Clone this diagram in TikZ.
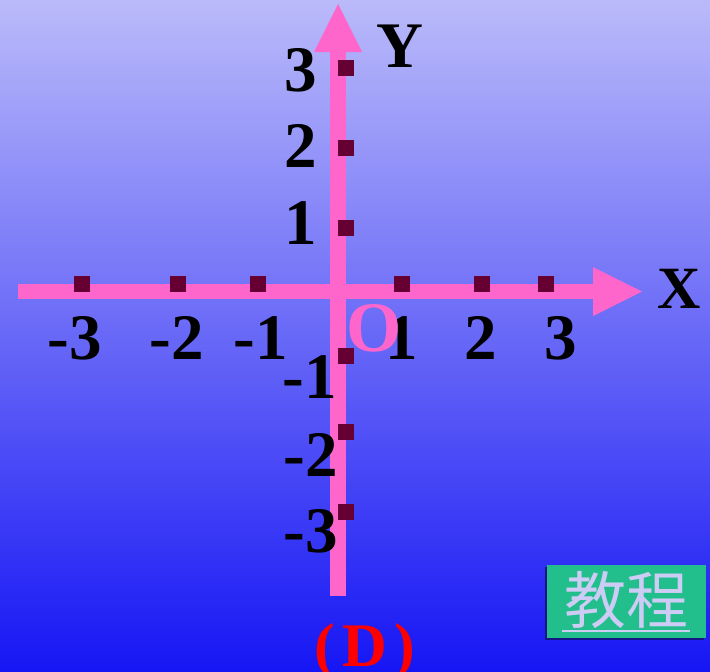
\documentclass[tikz,border=0pt]{standalone}
\usepackage{fontspec}
\setmainfont{Liberation Serif}
\newfontfamily\cjkfont{Noto Sans CJK SC}
\definecolor{axispink}{RGB}{255,102,204}
\definecolor{tickred}{RGB}{102,0,51}
\definecolor{btnteal}{RGB}{34,190,140}
\definecolor{btntext}{RGB}{204,204,245}
\definecolor{btnshadow}{RGB}{20,20,130}
\definecolor{bgtop}{RGB}{186,186,250}
\definecolor{bgmid}{RGB}{122,122,252}
\definecolor{bgbot}{RGB}{22,22,245}
\definecolor{labred}{RGB}{255,0,0}
\begin{document}
\begin{tikzpicture}[x=1pt,y=-1pt,
  tick/.style={fill=tickred, minimum size=16pt, inner sep=0pt},
  lbl/.style={inner sep=0pt, font=\bfseries\fontsize{65}{65}\selectfont, text=black},
  axlbl/.style={inner sep=0pt, font=\bfseries\fontsize{60}{60}\selectfont, text=black},
  pinkaxis/.style={fill=axispink}]
\useasboundingbox (0,0) rectangle (710,672);
\shade[top color=bgtop, middle color=bgmid, bottom color=bgbot] (0,0) rectangle (710,672);
% axes
\fill[pinkaxis] (18,284) rectangle (594,299);
\fill[pinkaxis] (593,267) -- (642,291.5) -- (593,316) -- cycle;
\fill[pinkaxis] (330,51) rectangle (346,596);
\fill[pinkaxis] (314,52) -- (338,4) -- (362,52) -- cycle;
% ticks on x axis
\node[tick] (txm3) at (82,284) {};
\node[tick] (txm2) at (178,284) {};
\node[tick] (txm1) at (258,284) {};
\node[tick] (tx1) at (402,284) {};
\node[tick] (tx2) at (482,284) {};
\node[tick] (tx3) at (546,284) {};
% ticks on y axis
\node[tick] (ty3) at (346,68) {};
\node[tick] (ty2) at (346,148) {};
\node[tick] (ty1) at (346,228) {};
\node[tick] (tym1) at (346,356) {};
\node[tick] (tym2) at (346,432) {};
\node[tick] (tym3) at (346,512) {};
% x labels
\node[lbl] (lxm3) at (75,338) {-3};
\node[lbl] (lxm2) at (177,338) {-2};
\node[lbl] (lxm1) at (261,338) {-1};
\node[lbl] (lx1) at (402,338) {1};
\node[lbl] (lx2) at (481,338) {2};
\node[lbl] (lx3) at (561,338) {3};
% y labels
\node[lbl] (ly3) at (301,70) {3};
\node[lbl] (ly2) at (301,146) {2};
\node[lbl] (ly1) at (301,223) {1};
\node[lbl] (lym1) at (310,377) {-1};
\node[lbl] (lym2) at (311,455) {-2};
\node[lbl] (lym3) at (311,531) {-3};
% axis names
\node[lbl] (ly) at (400,46) {Y};
\node[axlbl] (lx) at (679,289) {X};
\node[inner sep=0pt, font=\bfseries\fontsize{71}{71}\selectfont, text=axispink] (lo) at (374,328) {O};
% answer label
\node[inner sep=0pt, anchor=base, font=\bfseries\fontsize{62}{62}\selectfont, text=labred] (ans) at (365,666) {(\kern7pt D\kern7pt)};
% button
\fill[btnshadow] (545,567) rectangle (704,640);
\node[fill=btnteal, minimum width=159pt, minimum height=73pt, inner sep=0pt] (btn) at (626.5,601.5) {};
\node[inner sep=0pt, text=btntext, font=\cjkfont\fontsize{62}{62}\selectfont] (btntxt) at (626,600) {教程};
\coordinate (ulL) at (562,631);
\coordinate (ulR) at (690,631);
\draw[btntext, line width=2.6pt] (ulL) -- (ulR);
\end{tikzpicture}
\end{document}
